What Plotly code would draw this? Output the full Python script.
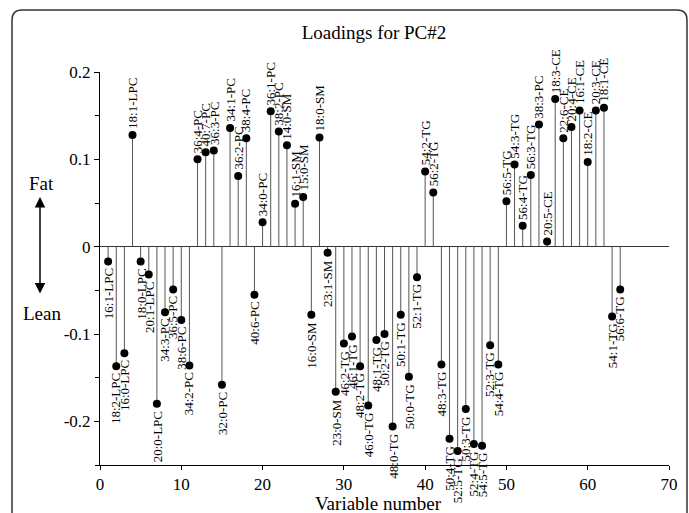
import plotly.graph_objects as go

variables = list(range(1, 65))
labels = ["16:1-LPC","18:2-LPC","16:0-LPC","18:1-LPC","18:0-LPC","20:1-LPC","20:0-LPC",
          "34:3-PC","36:5-PC","38:6-PC","34:2-PC","36:4-PC","40:7-PC","36:3-PC","32:0-PC",
          "34:1-PC","36:2-PC","38:4-PC","40:6-PC","34:0-PC","36:1-PC","38:2-PC",
          "14:0-SM","16:1-SM","15:0-SM","16:0-SM","18:0-SM","23:1-SM","23:0-SM",
          "46:2-TG","46:1-TG","48:2-TG","46:0-TG","48:1-TG","50:2-TG","48:0-TG","50:1-TG",
          "50:0-TG","52:1-TG","54:2-TG","56:2-TG","48:3-TG","50:4-TG","52:5-TG","50:3-TG",
          "52:4-TG","54:5-TG","52:3-TG","54:4-TG","56:5-TG","54:3-TG","56:4-TG","56:3-TG",
          "38:3-PC","20:5-CE","18:3-CE","22:6-CE","20:4-CE","16:1-CE","18:2-CE","20:3-CE",
          "18:1-CE","54:1-TG","56:6-TG"]
loadings = [-0.017,-0.137,-0.122,0.128,-0.017,-0.032,-0.180,
            -0.075,-0.049,-0.084,-0.136,0.100,0.108,0.110,-0.158,
            0.136,0.081,0.124,-0.055,0.028,0.155,0.132,
            0.116,0.049,0.057,-0.078,0.125,-0.007,-0.166,
            -0.111,-0.103,-0.137,-0.182,-0.107,-0.100,-0.206,-0.078,
            -0.149,-0.035,0.086,0.062,-0.135,-0.220,-0.234,-0.186,
            -0.226,-0.228,-0.113,-0.135,0.052,0.094,0.024,0.082,
            0.140,0.006,0.169,0.124,0.137,0.156,0.097,0.156,
            0.159,-0.080,-0.049]

y_tickvals = [-0.2, -0.1, 0, 0.1, 0.2]
y_ticktext = ["-0.2", "-0.1", "0", "0.1", "0.2"]
x_tickvals = [0, 10, 20, 30, 40, 50, 60, 70]

W, H = 689, 513
L, R, T, B = 100, 20, 72, 48
PW, PH = W - L - R, H - T - B

def px2x(px):
    return (px - L) / PW

def py2y(py):
    return (H - B - py) / PH

FONT = "Liberation Serif, Times New Roman, serif"

fig = go.Figure()

# stems
sx, sy = [], []
for xv, yv in zip(variables, loadings):
    sx += [xv, xv, None]
    sy += [0, yv, None]
fig.add_trace(go.Scatter(x=sx, y=sy, mode="lines",
                         line=dict(color="#555555", width=1),
                         hoverinfo="skip", showlegend=False))
fig.add_trace(go.Scatter(x=variables, y=loadings, mode="markers",
                         marker=dict(color="black", size=8),
                         text=labels, showlegend=False))

annotations = []
for xv, yv, lab in zip(variables, loadings, labels):
    pos = yv >= 0
    annotations.append(dict(
        x=xv, y=yv, xref="x", yref="y", text=lab, showarrow=False,
        textangle=-90, font=dict(family=FONT, size=13, color="black"),
        yanchor="bottom" if pos else "top", xanchor="center",
        yshift=5 if pos else -6, borderpad=0))

# text elements
annotations.append(dict(x=px2x(378), y=py2y(503), xref="paper", yref="paper",
                        text="Variable number", showarrow=False,
                        font=dict(family=FONT, size=19, color="black"),
                        xanchor="center", yanchor="middle"))
annotations.append(dict(x=px2x(41), y=py2y(183), xref="paper", yref="paper",
                        text="Fat", showarrow=False,
                        font=dict(family=FONT, size=19, color="black"),
                        xanchor="center", yanchor="middle"))
annotations.append(dict(x=px2x(42), y=py2y(313), xref="paper", yref="paper",
                        text="Lean", showarrow=False,
                        font=dict(family=FONT, size=19, color="black"),
                        xanchor="center", yanchor="middle"))
annotations.append(dict(x=px2x(40), y=py2y(197), xref="paper", yref="paper",
                        ax=0, ay=98, text="", showarrow=True,
                        arrowside="end+start", arrowhead=2, arrowsize=1.4,
                        arrowwidth=1.5, arrowcolor="black", standoff=0, startstandoff=0))

# rounded figure border
x0, x1 = px2x(12), px2x(687)
y0, y1 = py2y(530), py2y(10)
rx, ry = 10 / PW, 10 / PH
path = (f"M {x0},{y0} L {x0},{y1-ry} Q {x0},{y1} {x0+rx},{y1} "
        f"L {x1-rx},{y1} Q {x1},{y1} {x1},{y1-ry} L {x1},{y0}")

fig.update_layout(
    width=W, height=H,
    margin=dict(l=L, r=R, t=T, b=B),
    paper_bgcolor="white", plot_bgcolor="white",
    title=dict(text="Loadings for PC#2", x=374 / W, xref="container",
               y=1 - 32 / H, yref="container", xanchor="center", yanchor="middle",
               font=dict(family=FONT, size=19, color="black")),
    font=dict(family=FONT, color="black"),
    annotations=annotations,
    shapes=[dict(type="path", path=path, xref="paper", yref="paper",
                 line=dict(color="#333333", width=1.5))],
    xaxis=dict(range=[0, 70], tickvals=x_tickvals, showline=True, linecolor="black",
               linewidth=1, ticks="outside", ticklen=4, tickcolor="black",
               showgrid=False, zeroline=False,
               tickfont=dict(family=FONT, size=17, color="black")),
    yaxis=dict(range=[-0.25, 0.2], tickvals=y_tickvals, ticktext=y_ticktext,
               showline=True, linecolor="black", linewidth=1, ticks="outside",
               ticklen=5, tickcolor="black", showgrid=False,
               zeroline=True, zerolinecolor="#333333", zerolinewidth=1,
               minor=dict(tickvals=[-0.25, -0.15, -0.05, 0.05, 0.15], ticks="outside",
                          ticklen=4, tickcolor="black", showgrid=False),
               tickfont=dict(family=FONT, size=17, color="black")),
)

fig.write_html("out.html", config={"displayModeBar": False},
               post_script="document.body.style.margin='0';document.body.style.overflow='hidden';")
